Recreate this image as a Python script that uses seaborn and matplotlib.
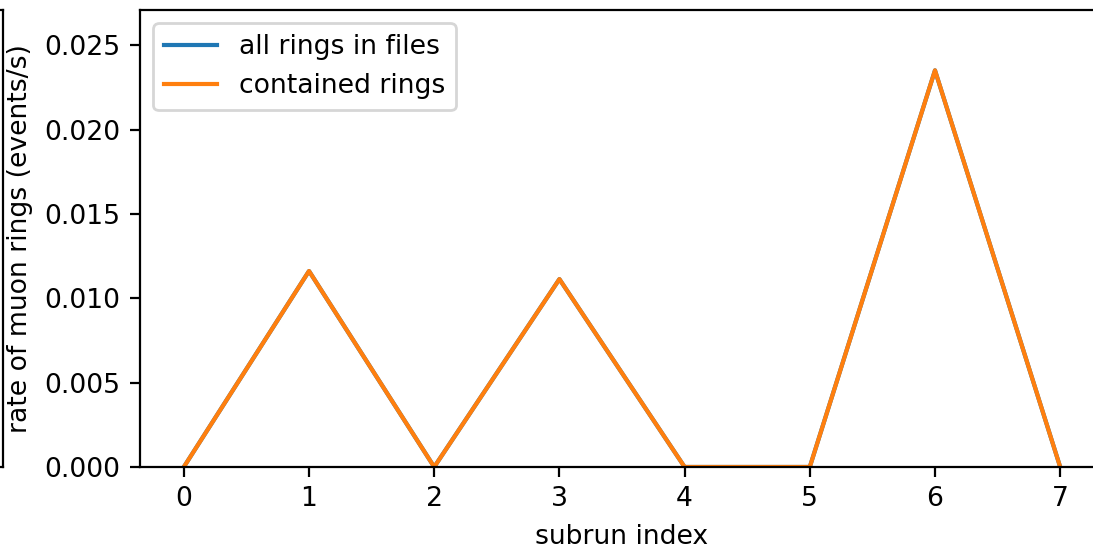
import pandas as pd
import matplotlib
matplotlib.use('Agg')
import matplotlib.pyplot as plt
import seaborn as sns

# rate of muon rings per subrun
subrun = [0, 1, 2, 3, 4, 5, 6, 7]
all_rings = [0.0, 0.01162, 0.0, 0.01114, 0.0, 0.0, 0.02352, 0.0]
contained_rings = [0.0, 0.01162, 0.0, 0.01114, 0.0, 0.0, 0.02352, 0.0]

df = pd.DataFrame({'subrun': subrun, 'all': all_rings, 'contained': contained_rings})

plt.rcParams['font.size'] = 9.6

fig = plt.figure(figsize=(1093 / 200, 549 / 200), dpi=200)

# neighbouring panel, mostly cut off at the left edge
ax_left = fig.add_axes([-0.6, 0.1494, 0.6 + 3 / 1093, 0.9818 - 0.1494])
ax_left.set_xticks([])
ax_left.set_yticks([])

ax = fig.add_axes([140 / 1093, 0.1494, 964 / 1093, 0.9818 - 0.1494])
sns.lineplot(data=df, x='subrun', y='all', ax=ax, color='tab:blue', label='all rings in files')
sns.lineplot(data=df, x='subrun', y='contained', ax=ax, color='tab:orange', label='contained rings')
ax.set_ylim(0, 0.0271)
ax.set_xlabel('subrun index')
ax.set_ylabel('rate of muon rings (events/s)')
ax.legend(loc='upper left')

fig.savefig('out.png', dpi=200)
